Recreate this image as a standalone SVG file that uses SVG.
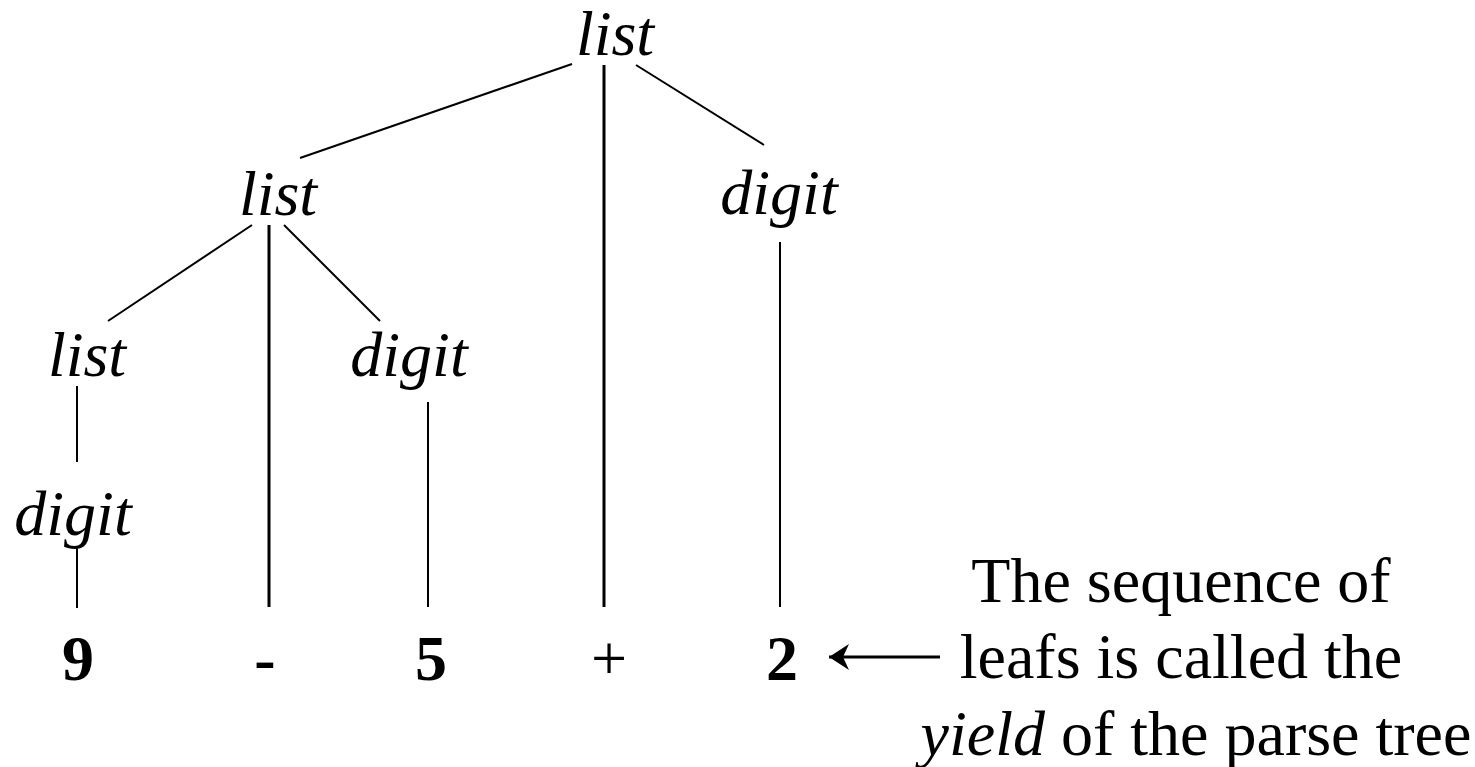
<svg xmlns="http://www.w3.org/2000/svg" width="1475" height="767" viewBox="0 0 1475 767">
  <style>
    .nt { font-family: "Liberation Serif", "Times New Roman", serif; font-style: italic; font-size: 64px; fill: #000; text-anchor: middle; }
    .leaf { font-family: "Liberation Serif", "Times New Roman", serif; font-weight: bold; font-size: 64px; fill: #000; text-anchor: middle; }
    .op { font-family: "Liberation Serif", "Times New Roman", serif; font-size: 64px; fill: #000; text-anchor: middle; }
    .note { font-family: "Liberation Serif", "Times New Roman", serif; font-size: 64px; fill: #000; text-anchor: middle; }
    .edge { stroke: #000; stroke-width: 2; fill: none; }
    .vedge { stroke: #000; stroke-width: 3; fill: none; }
  </style>
  <defs>
    <!-- barbed head; tip at the path's end point -->
    <marker id="arrowhead" viewBox="0 0 22 28" refX="20" refY="14" markerWidth="22" markerHeight="28" markerUnits="userSpaceOnUse" orient="auto">
      <path d="M20,14 L0,1 L6,14 L0,27 Z" fill="#000"/>
    </marker>
  </defs>

  <g id="connectors">
    <!-- root list -->
    <line class="edge" x1="572" y1="64" x2="300" y2="158"/>
    <line class="vedge" x1="604" y1="65" x2="604" y2="607"/>
    <line class="edge" x1="636" y1="65" x2="764" y2="145"/>
    <!-- inner list -->
    <line class="edge" x1="252" y1="225" x2="108" y2="321"/>
    <line class="vedge" x1="269" y1="225" x2="269" y2="607"/>
    <line class="edge" x1="284" y1="225" x2="380" y2="321"/>
    <!-- right digit -->
    <line class="edge" x1="780" y1="242" x2="780" y2="607"/>
    <!-- lower list -->
    <line class="edge" x1="77" y1="386" x2="77" y2="462"/>
    <!-- middle digit -->
    <line class="edge" x1="428" y1="402" x2="428" y2="607"/>
    <!-- bottom digit -->
    <line class="edge" x1="77" y1="546" x2="77" y2="608"/>
    <!-- yield pointer -->
    <line x1="940" y1="657" x2="829" y2="657" stroke="#000" stroke-width="3" marker-end="url(#arrowhead)"/>
  </g>

  <g id="n-list-root"><text class="nt" x="615" y="55">list</text></g>
  <g id="n-list-2"><text class="nt" x="278" y="215">list</text></g>
  <g id="n-digit-right"><text class="nt" x="779" y="214">digit</text></g>
  <g id="n-list-3"><text class="nt" x="87" y="376">list</text></g>
  <g id="n-digit-mid"><text class="nt" x="409" y="376">digit</text></g>
  <g id="n-digit-low"><text class="nt" x="73" y="535">digit</text></g>

  <g id="leaf-9"><text class="leaf" x="78" y="680">9</text></g>
  <g id="leaf-minus"><text class="leaf" x="265" y="680">-</text></g>
  <g id="leaf-5"><text class="leaf" x="431" y="680">5</text></g>
  <g id="leaf-plus"><text class="op" x="609" y="680">+</text></g>
  <g id="leaf-2"><text class="leaf" x="782" y="680">2</text></g>

  <g id="note">
    <text class="note" x="1181" y="602">The sequence of</text>
    <text class="note" x="1181" y="678">leafs is called the</text>
    <text class="note" x="1196" y="755"><tspan font-style="italic">yield</tspan> of the parse tree</text>
  </g>
</svg>
